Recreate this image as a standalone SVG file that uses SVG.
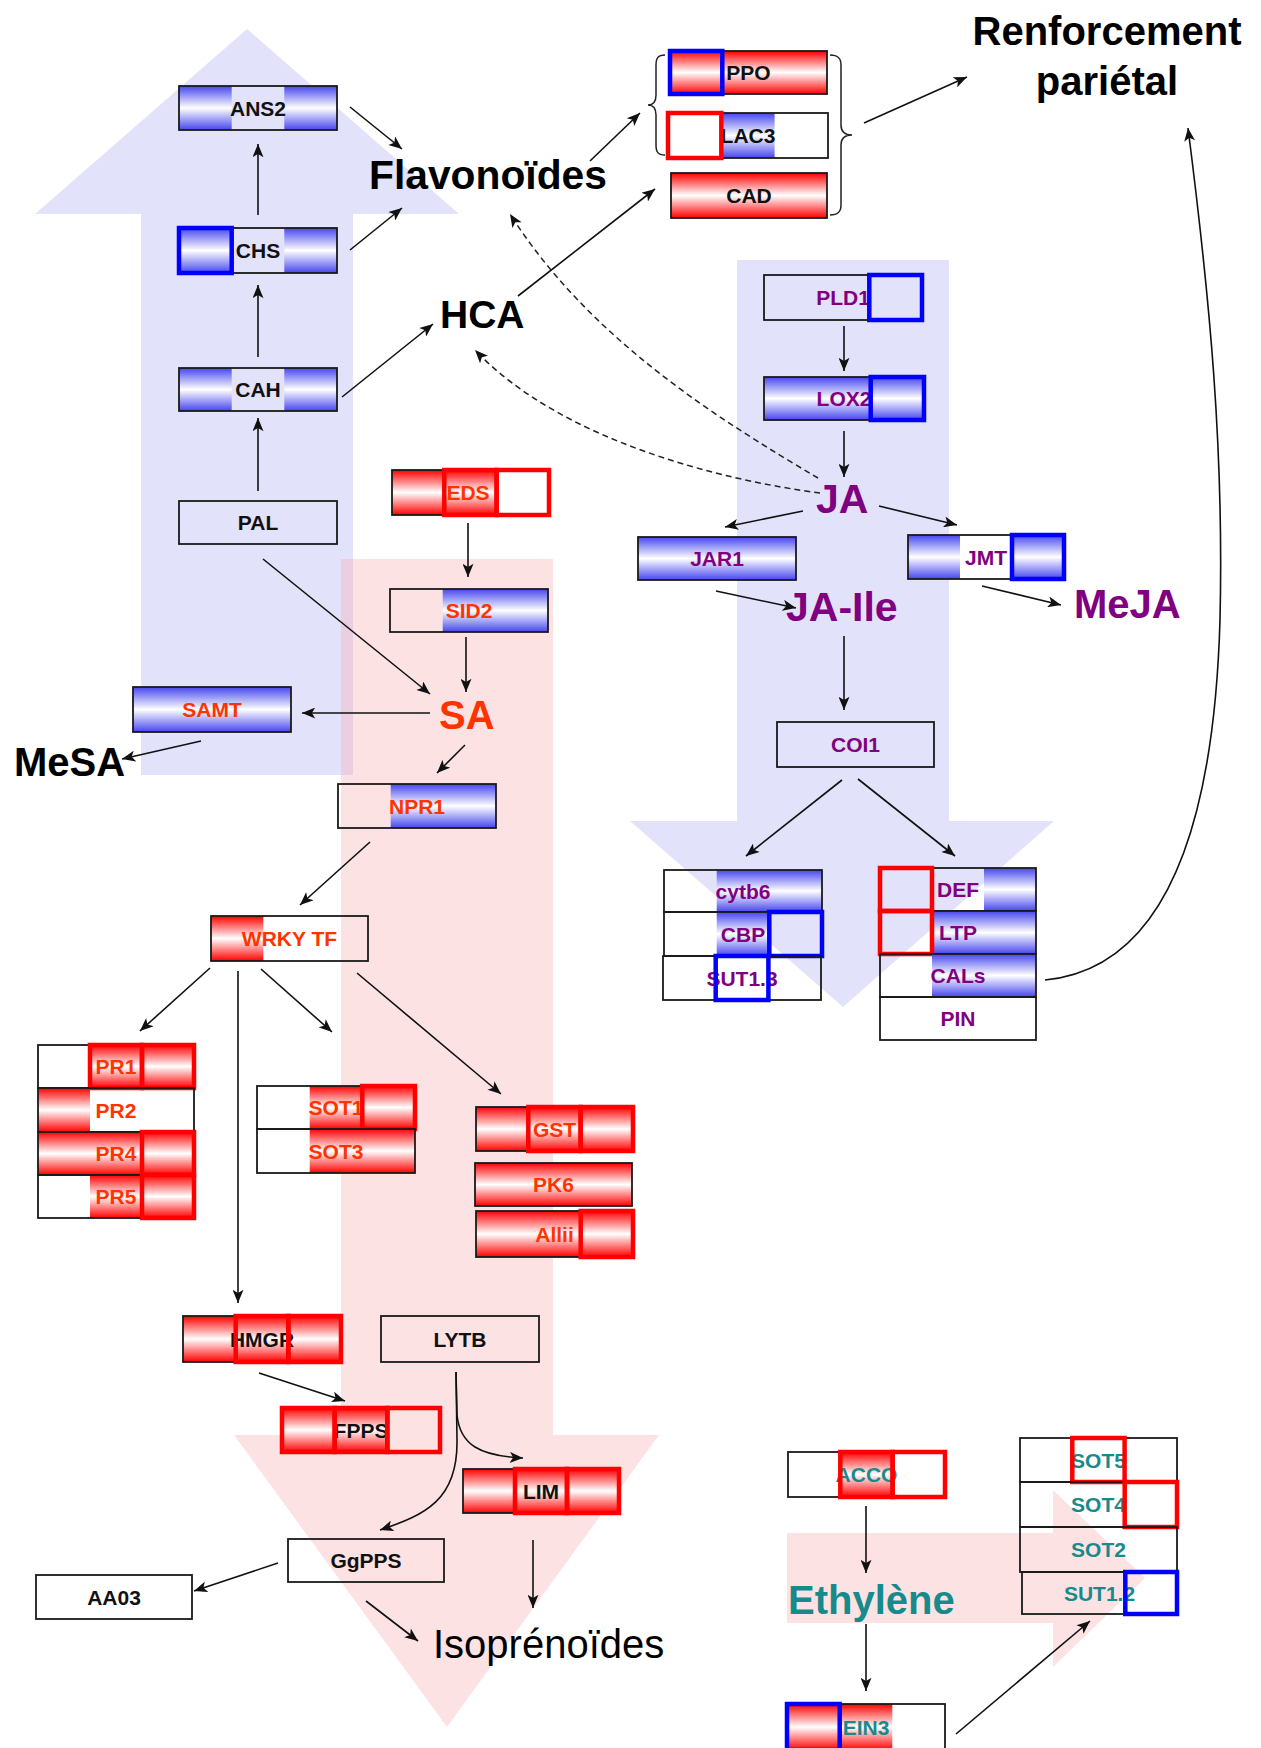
<svg xmlns="http://www.w3.org/2000/svg" width="1261" height="1748" viewBox="0 0 1261 1748">
<style>
.gB{fill:url(#gb)}
.gR{fill:url(#gr)}
.box{fill:none;stroke:#1a1a1a;stroke-width:1.8}
.ob{fill:none;stroke:#0000ff;stroke-width:4.5}
.or{fill:none;stroke:#ff0000;stroke-width:4.5}
.t{font-family:"Liberation Sans",Arial,sans-serif;font-weight:bold;font-size:21px;text-anchor:middle}
.k{fill:#111}
.r{fill:#ff3300}
.p{fill:#800080}
.c{fill:#178b8b}
.big{font-family:"Liberation Sans",Arial,sans-serif;font-weight:bold;font-size:40px}
.ln{fill:none;stroke:#111;stroke-width:1.6;marker-end:url(#ah)}
.dl{fill:none;stroke:#222;stroke-width:1.5;stroke-dasharray:6 4;marker-end:url(#ah)}
.br{fill:none;stroke:#222;stroke-width:1.5}
.lav{fill:#e2e2fa}
.pnk{fill:#f9acb2;fill-opacity:0.35}
</style>
<defs>
<linearGradient id="gb" x1="0" y1="0" x2="0" y2="1">
<stop offset="0" stop-color="#4646ee"/>
<stop offset="0.5" stop-color="#ffffff"/>
<stop offset="1" stop-color="#4646ee"/>
</linearGradient>
<linearGradient id="gr" x1="0" y1="0" x2="0" y2="1">
<stop offset="0" stop-color="#ff0000"/>
<stop offset="0.5" stop-color="#ffffff"/>
<stop offset="1" stop-color="#ff0000"/>
</linearGradient>
<marker id="ah" viewBox="0 0 12 10" refX="12" refY="5" markerWidth="14" markerHeight="11" markerUnits="userSpaceOnUse" orient="auto">
<path d="M0,0 L12,5 L0,10 L3,5 z" fill="#111"/>
</marker>
</defs>

<rect width="1261" height="1748" fill="#ffffff"/>

<g id="background-arrows">
<polygon class="lav" points="141,775 141,214 35,214 247,29 459,214 353,214 353,775"/>
<polygon class="lav" points="737,260 949,260 949,821 1054,821 843,1007 630,821 737,821"/>
<polygon class="pnk" points="341,559 553,559 553,1435 659,1435 447,1727 234,1435 341,1435"/>
<polygon class="pnk" points="787,1533 1053,1533 1053,1490 1145,1578 1053,1667 1053,1623 787,1623"/>
</g>

<g id="connectors">
<line class="ln" x1="258" y1="215" x2="258" y2="144"/>
<line class="ln" x1="258" y1="357" x2="258" y2="285"/>
<line class="ln" x1="258" y1="491" x2="258" y2="418"/>
<line class="ln" x1="350" y1="107" x2="402" y2="149"/>
<line class="ln" x1="350" y1="250" x2="402" y2="208"/>
<line class="ln" x1="342" y1="397" x2="433" y2="324"/>
<line class="ln" x1="590" y1="161" x2="640" y2="113"/>
<line class="ln" x1="518" y1="296" x2="655" y2="189"/>
<line class="ln" x1="864" y1="123" x2="967" y2="77"/>
<path class="dl" d="M818,478 C720,420 590,340 510,214"/>
<path class="dl" d="M820,493 C720,480 560,440 475,350"/>
<line class="ln" x1="844" y1="326" x2="844" y2="371"/>
<line class="ln" x1="844" y1="431" x2="844" y2="477"/>
<line class="ln" x1="803" y1="511" x2="725" y2="527"/>
<line class="ln" x1="879" y1="506" x2="957" y2="525"/>
<line class="ln" x1="716" y1="591" x2="796" y2="608"/>
<line class="ln" x1="982" y1="586" x2="1061" y2="605"/>
<line class="ln" x1="844" y1="636" x2="844" y2="710"/>
<line class="ln" x1="842" y1="780" x2="746" y2="856"/>
<line class="ln" x1="858" y1="779" x2="955" y2="856"/>
<path class="ln" d="M1045,980 C1150,970 1213,860 1220,620 C1224,450 1210,300 1188,128"/>
<line class="ln" x1="468" y1="523" x2="468" y2="577"/>
<line class="ln" x1="466" y1="637" x2="466" y2="692"/>
<line class="ln" x1="263" y1="559" x2="430" y2="694"/>
<line class="ln" x1="430" y1="713" x2="302" y2="713"/>
<line class="ln" x1="201" y1="741" x2="122" y2="759"/>
<line class="ln" x1="465" y1="745" x2="437" y2="773"/>
<line class="ln" x1="370" y1="842" x2="300" y2="905"/>
<line class="ln" x1="210" y1="968" x2="140" y2="1031"/>
<line class="ln" x1="238" y1="971" x2="238" y2="1303"/>
<line class="ln" x1="261" y1="969" x2="332" y2="1032"/>
<line class="ln" x1="357" y1="973" x2="501" y2="1094"/>
<line class="ln" x1="259" y1="1373" x2="345" y2="1401"/>
<path class="ln" d="M456,1372 L457,1415 C460,1445 480,1456 523,1458"/>
<path class="ln" d="M456,1372 L457,1440 C458,1500 425,1515 380,1530"/>
<line class="ln" x1="533" y1="1540" x2="533" y2="1608"/>
<line class="ln" x1="278" y1="1563" x2="194" y2="1591"/>
<line class="ln" x1="366" y1="1601" x2="418" y2="1641"/>
<line class="ln" x1="866" y1="1506" x2="866" y2="1573"/>
<line class="ln" x1="866" y1="1624" x2="866" y2="1691"/>
<line class="ln" x1="956" y1="1734" x2="1090" y2="1621"/>
<path class="br" d="M665,55 C658,55 656,58 656,65 L656,95 C656,102 653,105 648,105 C653,105 656,108 656,115 L656,145 C656,152 658,155 665,155"/>
<path class="br" d="M830,55 C838,55 841,58 841,65 L841,125 C841,132 845,135 852,135 C845,135 841,138 841,145 L841,205 C841,212 838,215 830,215"/>
</g>

<g id="n-ANS2"><rect class="gB" x="179" y="86" width="52.7" height="44"/><rect class="gB" x="284.3" y="86" width="52.7" height="44"/><rect class="box" x="179" y="86" width="158" height="44"/><text class="t k" x="258" y="115.5">ANS2</text></g>
<g id="n-CHS"><rect class="gB" x="179" y="228" width="52.7" height="45"/><rect class="gB" x="284.3" y="228" width="52.7" height="45"/><rect class="box" x="179" y="228" width="158" height="45"/><text class="t k" x="258" y="258">CHS</text><rect class="ob" x="179" y="228" width="52.7" height="45"/></g>
<g id="n-CAH"><rect class="gB" x="179" y="368" width="52.7" height="43"/><rect class="gB" x="284.3" y="368" width="52.7" height="43"/><rect class="box" x="179" y="368" width="158" height="43"/><text class="t k" x="258" y="397">CAH</text></g>
<g id="n-PAL"><rect class="box" x="179" y="501" width="158" height="43"/><text class="t k" x="258" y="530">PAL</text></g>

<g id="n-EDS"><rect class="gR" x="392" y="470" width="104.7" height="45"/><rect class="box" x="392" y="470" width="157" height="45"/><text class="t r" x="468" y="500">EDS</text><rect class="or" x="444.3" y="470" width="52.3" height="45"/><rect class="or" x="496.7" y="470" width="52.3" height="45"/></g>
<g id="n-SID2"><rect class="gB" x="442.7" y="589" width="105.3" height="43"/><rect class="box" x="390" y="589" width="158" height="43"/><text class="t r" x="469" y="618">SID2</text></g>
<g id="n-SAMT"><rect class="gB" x="133" y="687" width="158" height="45"/><rect class="box" x="133" y="687" width="158" height="45"/><text class="t r" x="212" y="717">SAMT</text></g>
<g id="n-NPR1"><rect class="gB" x="390.7" y="784" width="105.3" height="44"/><rect class="box" x="338" y="784" width="158" height="44"/><text class="t r" x="417" y="813.5">NPR1</text></g>
<g id="n-WRKY"><rect class="gR" x="211" y="916" width="52.3" height="45"/><rect class="box" x="211" y="916" width="157" height="45"/><text class="t r" x="289.5" y="946">WRKY TF</text></g>

<g id="n-PR1"><rect class="gR" x="90" y="1045" width="104" height="43"/><rect class="box" x="38" y="1045" width="156" height="43"/><text class="t r" x="116" y="1074">PR1</text><rect class="or" x="90" y="1045" width="52" height="43"/><rect class="or" x="142" y="1045" width="52" height="43"/></g>
<g id="n-PR2"><rect class="gR" x="38" y="1088" width="52" height="44"/><rect class="box" x="38" y="1088" width="156" height="44"/><text class="t r" x="116" y="1117.5">PR2</text></g>
<g id="n-PR4"><rect class="gR" x="38" y="1132" width="156" height="43"/><rect class="box" x="38" y="1132" width="156" height="43"/><text class="t r" x="116" y="1161">PR4</text><rect class="or" x="142" y="1132" width="52" height="43"/></g>
<g id="n-PR5"><rect class="gR" x="90" y="1175" width="104" height="43"/><rect class="box" x="38" y="1175" width="156" height="43"/><text class="t r" x="116" y="1204">PR5</text><rect class="or" x="142" y="1175" width="52" height="43"/></g>

<g id="n-SOT1"><rect class="gR" x="309.7" y="1086" width="105.3" height="43"/><rect class="box" x="257" y="1086" width="158" height="43"/><text class="t r" x="336" y="1115">SOT1</text><rect class="or" x="362.3" y="1086" width="52.7" height="43"/></g>
<g id="n-SOT3"><rect class="gR" x="309.7" y="1129" width="105.3" height="44"/><rect class="box" x="257" y="1129" width="158" height="44"/><text class="t r" x="336" y="1158.5">SOT3</text></g>

<g id="n-GST"><rect class="gR" x="476" y="1107" width="157" height="44"/><rect class="box" x="476" y="1107" width="157" height="44"/><text class="t r" x="554.5" y="1136.5">GST</text><rect class="or" x="528.3" y="1107" width="52.3" height="44"/><rect class="or" x="580.7" y="1107" width="52.3" height="44"/></g>
<g id="n-PK6"><rect class="gR" x="475" y="1163" width="157" height="43"/><rect class="box" x="475" y="1163" width="157" height="43"/><text class="t r" x="553.5" y="1192">PK6</text></g>
<g id="n-Allii"><rect class="gR" x="476" y="1211" width="157" height="46"/><rect class="box" x="476" y="1211" width="157" height="46"/><text class="t r" x="554.5" y="1241.5">Allii</text><rect class="or" x="580.7" y="1211" width="52.3" height="46"/></g>

<g id="n-HMGR"><rect class="gR" x="183" y="1316" width="158" height="46"/><rect class="box" x="183" y="1316" width="158" height="46"/><text class="t k" x="262" y="1346.5">HMGR</text><rect class="or" x="235.7" y="1316" width="52.7" height="46"/><rect class="or" x="288.3" y="1316" width="52.7" height="46"/></g>
<g id="n-LYTB"><rect class="box" x="381" y="1316" width="158" height="46"/><text class="t k" x="460" y="1346.5">LYTB</text></g>
<g id="n-FPPS"><rect class="gR" x="282" y="1408" width="105.3" height="44"/><rect class="box" x="282" y="1408" width="158" height="44"/><text class="t k" x="361" y="1437.5">FPPS</text><rect class="or" x="282" y="1408" width="52.7" height="44"/><rect class="or" x="334.7" y="1408" width="52.7" height="44"/><rect class="or" x="387.3" y="1408" width="52.7" height="44"/></g>
<g id="n-LIM"><rect class="gR" x="463" y="1469" width="156" height="44"/><rect class="box" x="463" y="1469" width="156" height="44"/><text class="t k" x="541" y="1498.5">LIM</text><rect class="or" x="515" y="1469" width="52" height="44"/><rect class="or" x="567" y="1469" width="52" height="44"/></g>
<g id="n-GgPPS"><rect class="box" x="288" y="1539" width="156" height="43"/><text class="t k" x="366" y="1568">GgPPS</text></g>
<g id="n-AA03"><rect class="box" x="36" y="1575" width="156" height="44"/><text class="t k" x="114" y="1604.5">AA03</text></g>

<g id="n-PPO"><rect class="gR" x="670" y="51" width="157" height="43"/><rect class="box" x="670" y="51" width="157" height="43"/><text class="t k" x="748.5" y="80">PPO</text><rect class="ob" x="670" y="51" width="52.3" height="43"/></g>
<g id="n-LAC3"><rect class="gB" x="721.3" y="113" width="53.3" height="45"/><rect class="box" x="668" y="113" width="160" height="45"/><text class="t k" x="748" y="143">LAC3</text><rect class="or" x="668" y="113" width="53.3" height="45"/></g>
<g id="n-CAD"><rect class="gR" x="671" y="173" width="156" height="45"/><rect class="box" x="671" y="173" width="156" height="45"/><text class="t k" x="749" y="203">CAD</text></g>

<g id="n-PLD1"><rect class="box" x="764" y="275" width="158" height="45"/><text class="t p" x="843" y="305">PLD1</text><rect class="ob" x="869.3" y="275" width="52.7" height="45"/></g>
<g id="n-LOX2"><rect class="gB" x="764" y="377" width="160" height="43"/><rect class="box" x="764" y="377" width="160" height="43"/><text class="t p" x="844" y="406">LOX2</text><rect class="ob" x="870.7" y="377" width="53.3" height="43"/></g>
<g id="n-JAR1"><rect class="gB" x="638" y="537" width="158" height="43"/><rect class="box" x="638" y="537" width="158" height="43"/><text class="t p" x="717" y="566">JAR1</text></g>
<g id="n-JMT"><rect class="gB" x="908" y="535" width="52" height="44"/><rect class="gB" x="1012" y="535" width="52" height="44"/><rect class="box" x="908" y="535" width="156" height="44"/><text class="t p" x="986" y="564.5">JMT</text><rect class="ob" x="1012" y="535" width="52" height="44"/></g>
<g id="n-COI1"><rect class="box" x="777" y="722" width="157" height="45"/><text class="t p" x="855.5" y="752">COI1</text></g>

<g id="n-cytb6"><rect class="gB" x="716.7" y="870" width="105.3" height="42"/><rect class="box" x="664" y="870" width="158" height="42"/><text class="t p" x="743" y="898.5">cytb6</text></g>
<g id="n-CBP"><rect class="gB" x="716.7" y="912" width="52.7" height="44"/><rect class="box" x="664" y="912" width="158" height="44"/><text class="t p" x="743" y="941.5">CBP</text><rect class="ob" x="769.3" y="912" width="52.7" height="44"/></g>
<g id="n-SUT13"><rect class="box" x="663" y="956" width="158" height="44"/><text class="t p" x="742" y="985.5">SUT1.3</text><rect class="ob" x="715.7" y="956" width="52.7" height="44"/></g>

<g id="n-DEF"><rect class="gB" x="984" y="868" width="52" height="43"/><rect class="box" x="880" y="868" width="156" height="43"/><text class="t p" x="958" y="897">DEF</text><rect class="or" x="880" y="868" width="52" height="43"/></g>
<g id="n-LTP"><rect class="gB" x="932" y="911" width="104" height="43"/><rect class="box" x="880" y="911" width="156" height="43"/><text class="t p" x="958" y="940">LTP</text><rect class="or" x="880" y="911" width="52" height="43"/></g>
<g id="n-CALs"><rect class="gB" x="932" y="954" width="104" height="43"/><rect class="box" x="880" y="954" width="156" height="43"/><text class="t p" x="958" y="983">CALs</text></g>
<g id="n-PIN"><rect class="box" x="880" y="997" width="156" height="43"/><text class="t p" x="958" y="1026">PIN</text></g>

<g id="n-ACCO"><rect class="gR" x="840.3" y="1452" width="52.3" height="45"/><rect class="box" x="788" y="1452" width="157" height="45"/><text class="t c" x="866.5" y="1482">ACCO</text><rect class="or" x="840.3" y="1452" width="52.3" height="45"/><rect class="or" x="892.7" y="1452" width="52.3" height="45"/></g>
<g id="n-EIN3"><rect class="gR" x="787" y="1704" width="105.3" height="46"/><rect class="box" x="787" y="1704" width="158" height="46"/><text class="t c" x="866" y="1734.5">EIN3</text><rect class="ob" x="787" y="1704" width="52.7" height="46"/></g>
<g id="n-SOT5"><rect class="box" x="1020" y="1438" width="157" height="44"/><text class="t c" x="1098.5" y="1467.5">SOT5</text><rect class="or" x="1072.3" y="1438" width="52.3" height="44"/></g>
<g id="n-SOT4"><rect class="box" x="1020" y="1482" width="157" height="45"/><text class="t c" x="1098.5" y="1512">SOT4</text><rect class="or" x="1124.7" y="1482" width="52.3" height="45"/></g>
<g id="n-SOT2"><rect class="box" x="1020" y="1527" width="157" height="45"/><text class="t c" x="1098.5" y="1557">SOT2</text></g>
<g id="n-SUT12"><rect class="box" x="1022" y="1572" width="155" height="42"/><text class="t c" x="1099.5" y="1600.5">SUT1.2</text><rect class="ob" x="1125.3" y="1572" width="51.7" height="42"/></g>

<g id="l-Flavonoides"><text class="big" x="369" y="189" fill="#000" textLength="238" lengthAdjust="spacingAndGlyphs">Flavonoïdes</text></g>
<g id="l-HCA"><text class="big" x="440" y="328" fill="#000" style="font-size:39px">HCA</text></g>
<g id="l-Renforcement"><text class="big" x="1107" y="45" fill="#000" text-anchor="middle">Renforcement</text><text class="big" x="1107" y="95" fill="#000" text-anchor="middle">pariétal</text></g>
<g id="l-SA"><text class="big" x="439" y="728.5" fill="#ff3300">SA</text></g>
<g id="l-MeSA"><text class="big" x="14" y="776" fill="#000">MeSA</text></g>
<g id="l-JA"><text class="big" x="816" y="513" fill="#800080" style="font-size:41px">JA</text></g>
<g id="l-JAIle"><text class="big" x="786" y="621" fill="#800080" style="font-size:41px">JA-Ile</text></g>
<g id="l-MeJA"><text class="big" x="1074" y="618" fill="#800080">MeJA</text></g>
<g id="l-Isoprenoides"><text class="big" x="433" y="1658" fill="#000" style="font-weight:normal">Isoprénoïdes</text></g>
<g id="l-Ethylene"><text class="big" x="788" y="1614" fill="#178b8b">Ethylène</text></g>
</svg>
